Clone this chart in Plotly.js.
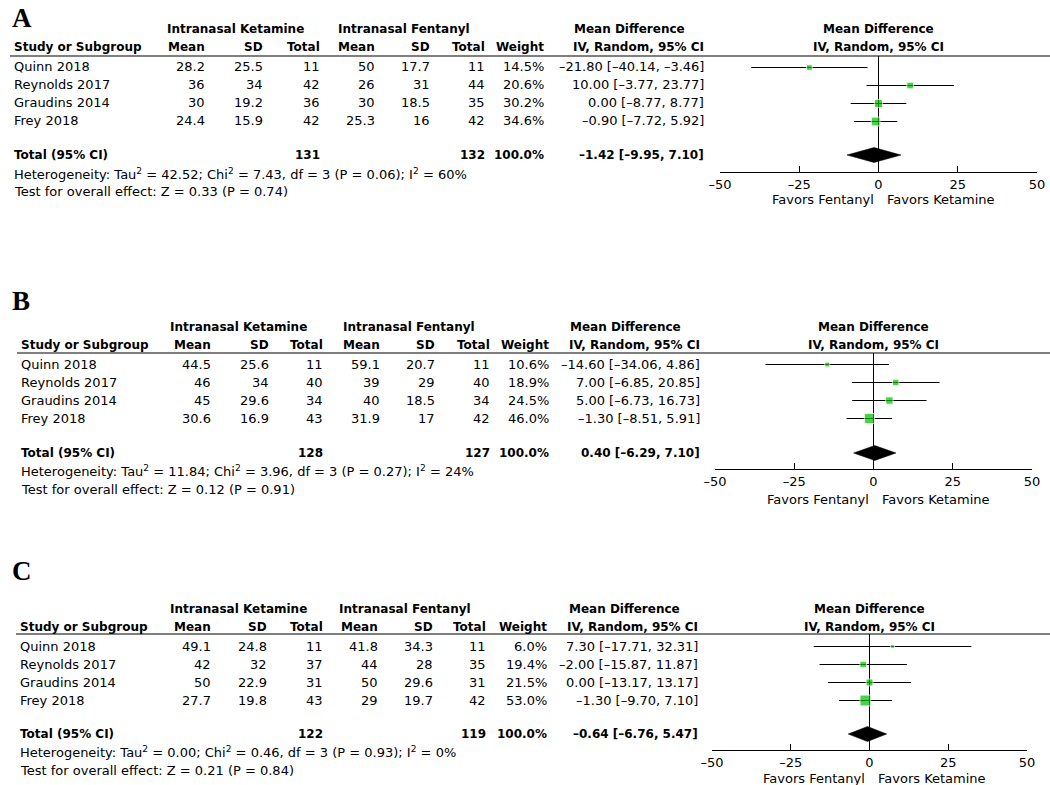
<!DOCTYPE html>
<html>
<head>
<meta charset="utf-8">
<script src="https://cdn.plot.ly/plotly-3.0.1.min.js"></script>
<style>body{margin:0;background:#fff}#plot{width:1050px;height:785px}</style>
</head>
<body>
<div id="plot"></div>
<script>
// study names (same in all three panels)
var studies = ["Quinn 2018", "Reynolds 2017", "Graudins 2014", "Frey 2018"];

// panel A
var aKetMean = [28.2, 36, 30, 24.4];
var aKetSD = [25.5, 34, 19.2, 15.9];
var aKetN = [11, 42, 36, 42];
var aFenMean = [50, 26, 30, 25.3];
var aFenSD = [17.7, 31, 18.5, 16];
var aFenN = [11, 44, 35, 42];
var aWeight = [14.5, 20.6, 30.2, 34.6];
var aMD = [-21.80, 10.00, 0.00, -0.90];
var aLo = [-40.14, -3.77, -8.77, -7.72];
var aHi = [-3.46, 23.77, 8.77, 5.92];
var aTotal = {ketN: 131, fenN: 132, md: -1.42, lo: -9.95, hi: 7.10};
var aHet = {tau2: "42.52", chi2: "7.43", df: 3, p: "0.06", i2: 60, z: "0.33", pz: "0.74"};

// panel B
var bKetMean = [44.5, 46, 45, 30.6];
var bKetSD = [25.6, 34, 29.6, 16.9];
var bKetN = [11, 40, 34, 43];
var bFenMean = [59.1, 39, 40, 31.9];
var bFenSD = [20.7, 29, 18.5, 17];
var bFenN = [11, 40, 34, 42];
var bWeight = [10.6, 18.9, 24.5, 46.0];
var bMD = [-14.60, 7.00, 5.00, -1.30];
var bLo = [-34.06, -6.85, -6.73, -8.51];
var bHi = [4.86, 20.85, 16.73, 5.91];
var bTotal = {ketN: 128, fenN: 127, md: 0.40, lo: -6.29, hi: 7.10};
var bHet = {tau2: "11.84", chi2: "3.96", df: 3, p: "0.27", i2: 24, z: "0.12", pz: "0.91"};

// panel C
var cKetMean = [49.1, 42, 50, 27.7];
var cKetSD = [24.8, 32, 22.9, 19.8];
var cKetN = [11, 37, 31, 43];
var cFenMean = [41.8, 44, 50, 29];
var cFenSD = [34.3, 28, 29.6, 19.7];
var cFenN = [11, 35, 31, 42];
var cWeight = [6.0, 19.4, 21.5, 53.0];
var cMD = [7.30, -2.00, 0.00, -1.30];
var cLo = [-17.71, -15.87, -13.17, -9.70];
var cHi = [32.31, 11.87, 13.17, 7.10];
var cTotal = {ketN: 122, fenN: 119, md: -0.64, lo: -6.76, hi: 5.47};
var cHet = {tau2: "0.00", chi2: "0.46", df: 3, p: "0.93", i2: 0, z: "0.21", pz: "0.84"};

var xTicks = [-50, -25, 0, 25, 50];

var W = 1050, H = 785;
var FONT = "DejaVu Sans";
var DASH = "\u2013";
function px(x) { return x / W; }
function py(y) { return 1 - y / H; }
function fmt(v, d) { return v.toFixed(d).replace("-", DASH); }
function ci(m, l, h) { return fmt(m, 2) + " [" + fmt(l, 2) + ", " + fmt(h, 2) + "]"; }

// page positions of each panel (pixels)
var panels = [
  {letter: "A", ketMean: aKetMean, ketSD: aKetSD, ketN: aKetN, fenMean: aFenMean, fenSD: aFenSD, fenN: aFenN,
   weight: aWeight, md: aMD, lo: aLo, hi: aHi, total: aTotal, het: aHet,
   letterY: 18, h1: 29, h2: 47, line: 56, lineX: 10, row0: 67, totalY: 155, hetY: 174, testY: 192,
   axisY: 172, favY: 200, x0: 720, x1: 1037,
   cols: [12, 207, 265, 322, 377, 432, 487, 546, 706], mdHead: 629},
  {letter: "B", ketMean: bKetMean, ketSD: bKetSD, ketN: bKetN, fenMean: bFenMean, fenSD: bFenSD, fenN: bFenN,
   weight: bWeight, md: bMD, lo: bLo, hi: bHi, total: bTotal, het: bHet,
   letterY: 301, h1: 327, h2: 345, line: 353, lineX: 17, row0: 364, totalY: 453, hetY: 471, testY: 489,
   axisY: 469, favY: 499, x0: 715, x1: 1032,
   cols: [19, 213, 271, 325, 382, 437, 492, 551, 702], mdHead: 625},
  {letter: "C", ketMean: cKetMean, ketSD: cKetSD, ketN: cKetN, fenMean: cFenMean, fenSD: cFenSD, fenN: cFenN,
   weight: cWeight, md: cMD, lo: cLo, hi: cHi, total: cTotal, het: cHet,
   letterY: 571, h1: 609, h2: 627, line: 634, lineX: 16, row0: 646, totalY: 734, hetY: 752, testY: 770,
   axisY: 750, favY: 778, x0: 712, x1: 1027,
   cols: [18, 213, 269, 325, 380, 435, 488, 549, 700], mdHead: 624}
];

var traces = [], annotations = [], shapes = [];
var layout = {
  width: W, height: H,
  margin: {l: 0, r: 0, t: 0, b: 0},
  paper_bgcolor: "#fff", plot_bgcolor: "rgba(0,0,0,0)",
  showlegend: false,
  font: {family: FONT, size: 13, color: "#000"}
};

function txt(x, y, s, anchor, bold) {
  annotations.push({
    xref: "paper", yref: "paper", x: px(x), y: py(y),
    text: bold ? "<b>" + s + "</b>" : s,
    showarrow: false, xanchor: anchor, yanchor: "middle",
    font: {family: FONT, size: bold ? 12 : 13, color: "#000"}
  });
}

panels.forEach(function (p, k) {
  var n = k + 1;
  var xa = "xaxis" + (n === 1 ? "" : n), ya = "yaxis" + (n === 1 ? "" : n);
  var xr = "x" + (n === 1 ? "" : n), yr = "y" + (n === 1 ? "" : n);
  var rows = studies.map(function (s, i) { return p.row0 + 18 * i; });

  layout[xa] = {
    domain: [px(p.x0), px(p.x1)], range: [-50, 50], anchor: yr,
    tickvals: xTicks, ticktext: xTicks.map(function (v) { return String(v).replace("-", DASH); }),
    ticks: "inside", ticklen: 6, tickcolor: "#000", tickwidth: 1,
    showline: true, linecolor: "#000", linewidth: 1, showgrid: false,
    zeroline: true, zerolinecolor: "#000", zerolinewidth: 1,
    tickfont: {family: FONT, size: 13, color: "#000"}, fixedrange: true
  };
  layout[ya] = {
    domain: [py(p.axisY), py(p.line)], range: [p.axisY, p.line], anchor: xr,
    visible: false, fixedrange: true
  };

  // confidence interval lines (half pixel offset keeps them crisp)
  var lx = [], ly = [];
  p.lo.forEach(function (l, i) { lx.push(l, p.hi[i], null); ly.push(rows[i] + 0.5, rows[i] + 0.5, null); });
  traces.push({x: lx, y: ly, xaxis: xr, yaxis: yr, mode: "lines", type: "scatter",
    line: {color: "#000", width: 1}, hoverinfo: "skip"});

  // study squares, area follows weight
  traces.push({x: p.md, y: rows.map(function (r) { return r + 0.5; }), xaxis: xr, yaxis: yr, mode: "markers", type: "scatter",
    marker: {symbol: "square", color: "#00bf00", size: p.weight.map(function (w) { return 1.5 * Math.sqrt(w); })},
    text: studies, hoverinfo: "text+x"});

  // pooled diamond
  var t = p.total;
  traces.push({x: [t.lo, t.md, t.hi, t.md, t.lo], y: [p.totalY, p.totalY - 7.5, p.totalY, p.totalY + 7.5, p.totalY],
    xaxis: xr, yaxis: yr, mode: "lines", type: "scatter", fill: "toself", fillcolor: "#000",
    line: {color: "#000", width: 0.5}, hoverinfo: "skip"});

  // panel letter
  annotations.push({xref: "paper", yref: "paper", x: px(10), y: py(p.letterY), text: "<b>" + p.letter + "</b>",
    showarrow: false, xanchor: "left", yanchor: "middle",
    font: {family: "Liberation Serif", size: 27, color: "#000"}});

  var c = p.cols;
  // headers
  txt(c[3] - 87, p.h1, "Intranasal Ketamine", "center", true);
  txt(c[6] - 83, p.h1, "Intranasal Fentanyl", "center", true);
  txt(p.mdHead, p.h1, "Mean Difference", "center", true);
  txt((p.x0 + p.x1) / 2, p.h1, "Mean Difference", "center", true);
  txt(c[0], p.h2, "Study or Subgroup", "left", true);
  ["Mean", "SD", "Total", "Mean", "SD", "Total", "Weight"].forEach(function (h, j) {
    txt(c[j + 1], p.h2, h, "right", true);
  });
  txt(c[8], p.h2, "IV, Random, 95% CI", "right", true);
  txt((p.x0 + p.x1) / 2, p.h2, "IV, Random, 95% CI", "center", true);

  shapes.push({type: "line", xref: "paper", yref: "paper", x0: px(p.lineX), x1: 1, y0: py(p.line), y1: py(p.line),
    line: {color: "#000", width: 1.2}});

  // study rows
  studies.forEach(function (s, i) {
    var y = rows[i];
    txt(c[0], y, s, "left");
    txt(c[1], y, String(p.ketMean[i]), "right");
    txt(c[2], y, String(p.ketSD[i]), "right");
    txt(c[3], y, String(p.ketN[i]), "right");
    txt(c[4], y, String(p.fenMean[i]), "right");
    txt(c[5], y, String(p.fenSD[i]), "right");
    txt(c[6], y, String(p.fenN[i]), "right");
    txt(c[7], y, p.weight[i].toFixed(1) + "%", "right");
    txt(c[8], y, ci(p.md[i], p.lo[i], p.hi[i]), "right");
  });

  // total row
  txt(c[0], p.totalY, "Total (95% CI)", "left", true);
  txt(c[3], p.totalY, String(t.ketN), "right", true);
  txt(c[6], p.totalY, String(t.fenN), "right", true);
  txt(c[7], p.totalY, "100.0%", "right", true);
  txt(c[8], p.totalY, ci(t.md, t.lo, t.hi), "right", true);

  var h = p.het;
  txt(c[0], p.hetY, "Heterogeneity: Tau<sup>2</sup> = " + h.tau2 + "; Chi<sup>2</sup> = " + h.chi2 +
    ", df = " + h.df + " (P = " + h.p + "); I<sup>2</sup> = " + h.i2 + "%", "left");
  txt(c[0], p.testY, "Test for overall effect: Z = " + h.z + " (P = " + h.pz + ")", "left");

  // favours labels under the axis
  annotations.push({xref: xr, yref: "paper", x: 0, y: py(p.favY), text: "Favors Fentanyl",
    showarrow: false, xanchor: "right", yanchor: "middle", xshift: -3,
    font: {family: FONT, size: 13, color: "#000"}});
  annotations.push({xref: xr, yref: "paper", x: 0, y: py(p.favY), text: "Favors Ketamine",
    showarrow: false, xanchor: "left", yanchor: "middle", xshift: 6,
    font: {family: FONT, size: 13, color: "#000"}});
});

layout.annotations = annotations;
layout.shapes = shapes;

Plotly.newPlot("plot", traces, layout, {displayModeBar: false, responsive: false});
</script>
</body>
</html>
